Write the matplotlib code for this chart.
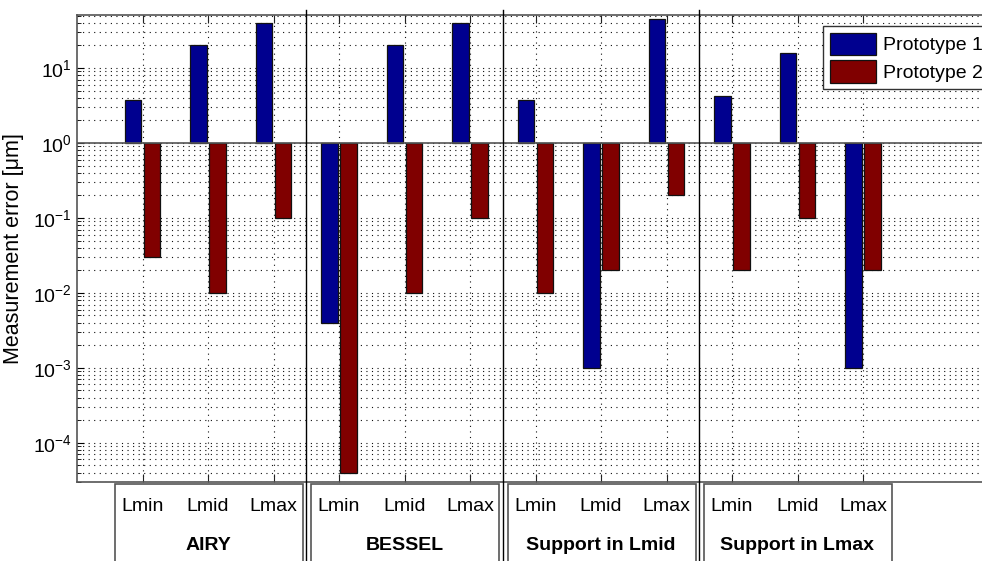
import matplotlib
matplotlib.use("Agg")
import matplotlib.pyplot as plt
from matplotlib.patches import Rectangle
from matplotlib.ticker import LogLocator, NullFormatter
import numpy as np

plt.rcParams['font.family'] = ['Liberation Sans', 'DejaVu Sans']
plt.rcParams['axes.unicode_minus'] = False

# data
groups = ["AIRY", "BESSEL", "Support in Lmid", "Support in Lmax"]
positions = ["Lmin", "Lmid", "Lmax"]
series_names = ["Prototype 1", "Prototype 2"]
proto1 = [3.7, 20, 40, 0.004, 20, 40, 3.8, 0.001, 45, 4.2, 16, 0.001]
proto2 = [0.03, 0.01, 0.1, 4e-5, 0.01, 0.1, 0.01, 0.02, 0.2, 0.02, 0.1, 0.02]
series_colors = ["#00008f", "#800000"]
y_ticks = [1e-4, 1e-3, 1e-2, 1e-1, 1e0, 1e1]

fig = plt.figure(figsize=(9.82, 5.61), dpi=100)
ax = fig.add_axes([77 / 982, 79 / 561, 917 / 982, 467 / 561])

x = np.arange(1, len(proto1) + 1)
width = 0.25
for vals, off, name, col in zip([proto1, proto2], [-0.145, 0.145], series_names, series_colors):
    v = np.array(vals)
    ax.bar(x + off, v - 1, width=width, bottom=1, color=col, edgecolor='#111111',
           linewidth=0.9, label=name, zorder=3)

ax.set_yscale('log')
ax.set_ylim(3e-5, 51)
ax.set_xlim(0, 14)
ax.axhline(1, color='#555555', lw=1.2, zorder=4)

ax.set_yticks(y_ticks)
ax.yaxis.set_minor_locator(LogLocator(base=10, subs=np.arange(2, 10), numticks=12))
ax.yaxis.set_minor_formatter(NullFormatter())
ax.set_xticks(x)
ax.set_xticklabels([])

ax.tick_params(axis='x', direction='in', top=True, length=6, width=0.8, color='#222222')
ax.tick_params(axis='y', which='major', direction='in', right=True, length=5, labelsize=14)
ax.tick_params(axis='y', which='minor', direction='in', right=True, length=3)

dots = (0, (1, 4))
ax.grid(True, which='major', axis='both', linestyle=dots, color='#111111', lw=0.8, zorder=0)
ax.grid(True, which='minor', axis='y', linestyle=dots, color='#111111', lw=0.8, zorder=0)
ax.set_axisbelow(True)

for s in ax.spines.values():
    s.set_color('#555555')
    s.set_linewidth(1.2)

ax.set_ylabel("Measurement error [μm]", fontsize=15.5)
ax.yaxis.set_label_coords(-0.058, 0.5)

# group separators and label boxes below the axes
trans = ax.get_xaxis_transform()
n = len(positions)
for i, g in enumerate(groups):
    first = i * n + 1
    last = first + n - 1
    if i < len(groups) - 1:
        ax.axvline(last + 0.5, ymin=-0.17, ymax=1.011, color='k', lw=1, clip_on=False, zorder=5)
    x0 = first - 0.42
    x1 = last + 0.45
    ax.add_patch(Rectangle((x0, -0.25), x1 - x0, 0.25 - 0.005, transform=trans,
                           clip_on=False, fill=False, edgecolor='#555555', lw=1.2))
    for j, p in enumerate(positions):
        ax.text(first + j, -0.0535, p, transform=trans, ha='center', va='center', fontsize=14)
    ax.text(first + 1, -0.135, g, transform=trans, ha='center', va='center',
            fontsize=14, fontweight='bold')

ax.legend(loc='upper left', bbox_to_anchor=(823 / 982, 1 - 26 / 561), bbox_transform=fig.transFigure,
          fancybox=False, edgecolor='#333333', framealpha=1, handlelength=2.4, handleheight=1.4,
          fontsize=14, borderaxespad=0, borderpad=0.35, labelspacing=0.25, handletextpad=0.35)

fig.savefig("out.png", dpi=100)
